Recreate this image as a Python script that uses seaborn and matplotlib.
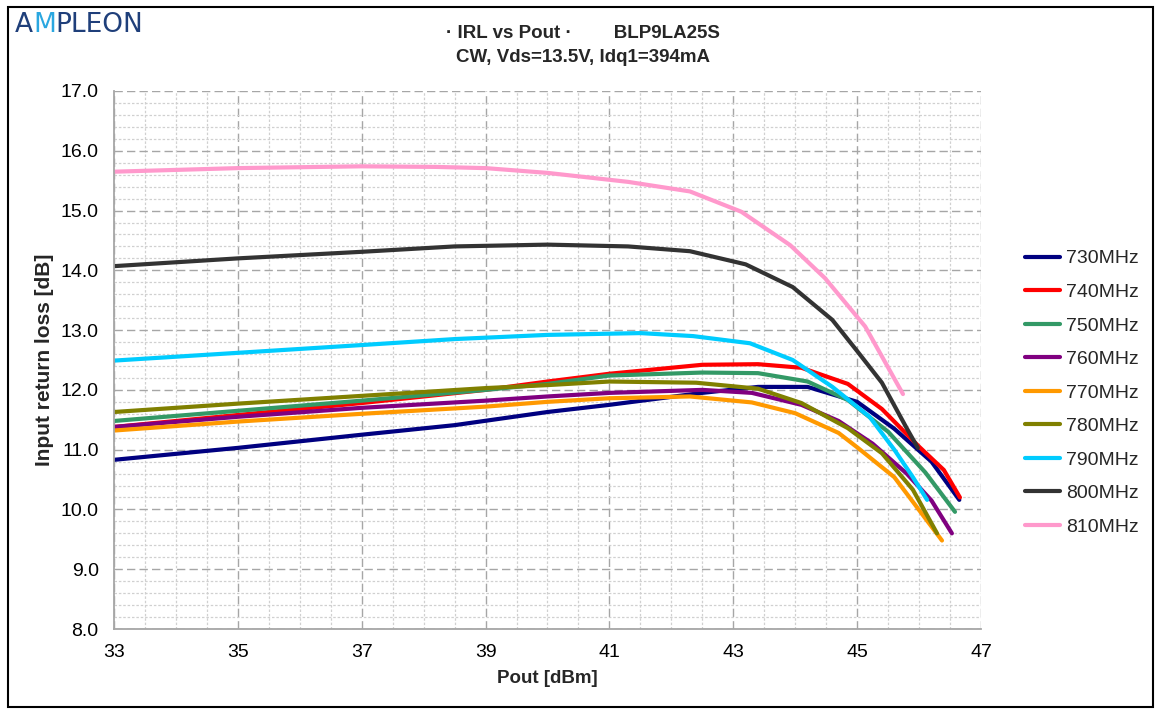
import matplotlib
matplotlib.use("Agg")
import matplotlib.pyplot as plt
from matplotlib.ticker import MultipleLocator, FormatStrFormatter
from matplotlib.patches import Rectangle
import seaborn as sns
import pandas as pd

# ---- data ----
freqs = ["730MHz", "740MHz", "750MHz", "760MHz", "770MHz", "780MHz", "790MHz", "800MHz", "810MHz"]

x_730 = [33, 35, 37, 38.5, 40, 41, 42.5, 43.4, 44.2, 45.0, 45.6, 46.2, 46.65]
y_730 = [10.83, 11.03, 11.25, 11.41, 11.63, 11.75, 11.95, 12.05, 12.05, 11.8, 11.35, 10.8, 10.16]

x_740 = [33, 35, 37, 39, 40, 41, 42.5, 43.4, 44.1, 44.85, 45.4, 46.0, 46.4, 46.66]
y_740 = [11.38, 11.58, 11.78, 12.0, 12.14, 12.27, 12.42, 12.43, 12.37, 12.1, 11.68, 11.05, 10.66, 10.2]

x_750 = [33, 35, 37, 39, 40, 41, 42.5, 43.4, 44.2, 44.85, 45.5, 46.1, 46.58]
y_750 = [11.48, 11.65, 11.82, 12.0, 12.1, 12.24, 12.29, 12.28, 12.14, 11.83, 11.3, 10.62, 9.96]

x_760 = [33, 35, 37, 39, 40, 41, 42.5, 43.3, 44.1, 44.7, 45.25, 45.8, 46.2, 46.53]
y_760 = [11.38, 11.55, 11.7, 11.82, 11.89, 11.95, 12.0, 11.95, 11.75, 11.48, 11.1, 10.6, 10.15, 9.6]

x_770 = [33, 35, 37, 39, 40, 41, 42.3, 43.3, 44.0, 44.7, 45.0, 45.6, 46.0, 46.37]
y_770 = [11.32, 11.47, 11.6, 11.72, 11.8, 11.86, 11.89, 11.79, 11.61, 11.28, 11.04, 10.54, 9.99, 9.48]

x_780 = [33, 35, 37, 39, 40, 41, 42.4, 43.4, 44.1, 44.85, 45.4, 45.9, 46.29]
y_780 = [11.63, 11.77, 11.9, 12.03, 12.08, 12.14, 12.12, 12.02, 11.78, 11.36, 10.94, 10.33, 9.6]

x_790 = [33, 35, 37, 38.5, 40, 41.5, 42.35, 43.27, 43.96, 44.6, 45.2, 45.6, 45.9, 46.13]
y_790 = [12.49, 12.62, 12.75, 12.85, 12.92, 12.95, 12.9, 12.78, 12.5, 12.05, 11.55, 11.0, 10.54, 10.16]

x_800 = [33, 35, 37, 38.5, 40, 41.3, 42.3, 43.2, 43.96, 44.6, 45.0, 45.4, 45.8, 45.98]
y_800 = [14.07, 14.2, 14.31, 14.4, 14.43, 14.40, 14.32, 14.1, 13.72, 13.17, 12.65, 12.12, 11.36, 11.03]

x_810 = [33, 35, 37, 38.2, 39, 40, 41.3, 42.3, 43.13, 43.92, 44.48, 45.13, 45.74]
y_810 = [15.65, 15.71, 15.74, 15.73, 15.71, 15.63, 15.48, 15.32, 14.98, 14.42, 13.87, 13.06, 11.93]

xs = [x_730, x_740, x_750, x_760, x_770, x_780, x_790, x_800, x_810]
ys = [y_730, y_740, y_750, y_760, y_770, y_780, y_790, y_800, y_810]

colors = ["#000080", "#ff0000", "#339966", "#800080", "#ff9900",
          "#808000", "#00ccff", "#333333", "#ff99cc"]

x_ticks = [33, 35, 37, 39, 41, 43, 45, 47]

rows = []
for f, xv, yv in zip(freqs, xs, ys):
    for i, (a, b) in enumerate(zip(xv, yv)):
        rows.append({"Frequency": f, "Pout": a, "IRL": b, "idx": i})
df = pd.DataFrame(rows)

# ---- figure ----
sns.set_theme(style="white")
plt.rcParams["font.family"] = ["Liberation Sans", "DejaVu Sans"]

fig = plt.figure(figsize=(11.55, 7.09), dpi=100)
ax = fig.add_axes([114 / 1155, 1 - 629 / 709, (981 - 114) / 1155, (629 - 91) / 709])

sns.lineplot(data=df, x="Pout", y="IRL", hue="Frequency", hue_order=freqs,
             palette=dict(zip(freqs, colors)), units="Frequency", estimator=None,
             sort=False, linewidth=3.0, ax=ax)

ax.set_xlim(33, 47)
ax.set_ylim(8.0, 17.0)
ax.xaxis.set_major_locator(MultipleLocator(2))
ax.xaxis.set_minor_locator(MultipleLocator(0.5))
ax.yaxis.set_major_locator(MultipleLocator(1.0))
ax.yaxis.set_minor_locator(MultipleLocator(0.2))
ax.set_xticks(x_ticks)
ax.yaxis.set_major_formatter(FormatStrFormatter("%.1f"))

ax.grid(which="major", color="#a6a6a6", linestyle=(0, (6, 3)), linewidth=1.0)
ax.grid(which="minor", color="#d0d0d0", linestyle=(0, (2, 1.5)), linewidth=0.9)
ax.set_axisbelow(True)

for s in ["top", "right"]:
    ax.spines[s].set_visible(False)
for s in ["left", "bottom"]:
    ax.spines[s].set_color("#a6a6a6")
    ax.spines[s].set_linewidth(1.3)

ax.tick_params(axis="both", which="major", length=6, width=1.0, color="#a6a6a6",
               labelsize=14, labelcolor="#000000", direction="out")
ax.tick_params(axis="both", which="minor", length=0)
ax.tick_params(axis="x", pad=5)
ax.tick_params(axis="y", pad=5)

ax.set_xlabel("Pout [dBm]", fontsize=13.5, fontweight="bold", labelpad=6)
ax.set_ylabel("Input return loss [dB]", fontsize=15, fontweight="bold", labelpad=5)

leg = ax.legend(loc="center left", bbox_to_anchor=(1.030, 0.439), frameon=False,
                fontsize=14, handlelength=1.8, labelspacing=0.82, handletextpad=0.35)
for line in leg.get_lines():
    line.set_linewidth(3.0)

# Title
fig.text(583 / 1155, 1 - 33 / 709, "\u00b7 IRL vs Pout \u00b7        BLP9LA25S",
         ha="center", va="center", fontsize=13.5, fontweight="bold")
fig.text(583 / 1155, 1 - 57 / 709, "CW, Vds=13.5V, Idq1=394mA",
         ha="center", va="center", fontsize=13.5, fontweight="bold")

# Logo
base_y = 1 - 32 / 709
t1 = fig.text(15 / 1155, base_y, "A", fontsize=19, color="#1f3f7a",
              ha="left", va="baseline", family=["DejaVu Sans"])
t2 = fig.text(0, 0, "M", fontsize=19, color="#2aa7e0", ha="left", va="baseline",
              family=["DejaVu Sans"])
t3 = fig.text(0, 0, "PLEON", fontsize=19, color="#1f3f7a", ha="left", va="baseline",
              family=["DejaVu Sans"])
fig.canvas.draw()
r = fig.canvas.get_renderer()
bb1 = t1.get_window_extent(r)
t2.set_position(((bb1.x1) / fig.bbox.width, base_y))
bb2 = t2.get_window_extent(r)
t3.set_position(((bb2.x1) / fig.bbox.width, base_y))

# Outer border
fig.patches.append(Rectangle((8 / 1155, 0.003), 1 - 8 / 1155 - 0.002, 1 - 7 / 709 - 0.003,
                             transform=fig.transFigure, fill=False,
                             edgecolor="black", linewidth=1.5))

fig.savefig("out.png", dpi=100, facecolor="white")
